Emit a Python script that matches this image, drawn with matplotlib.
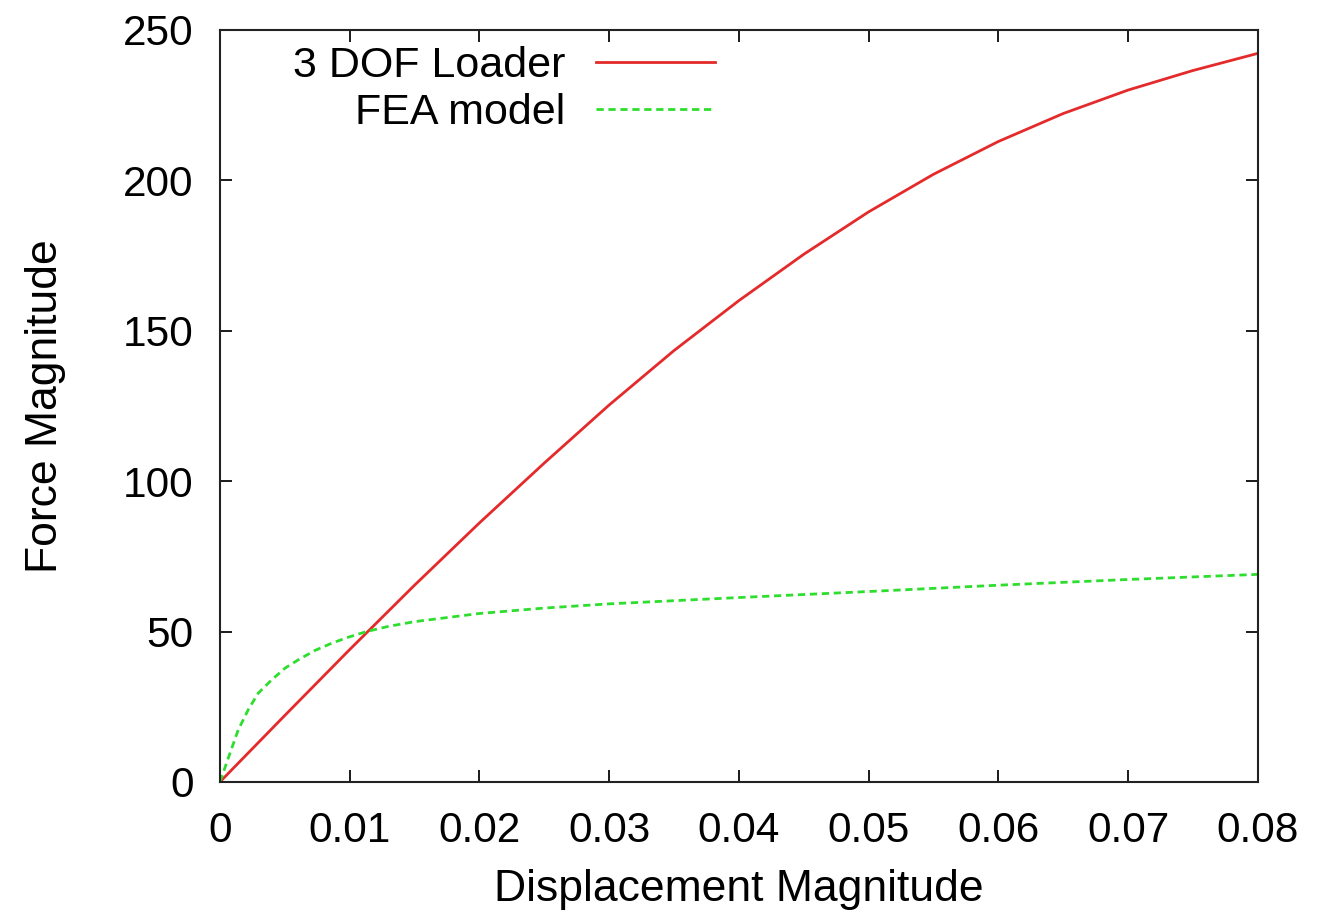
import matplotlib
matplotlib.use("Agg")
import matplotlib.pyplot as plt

plt.rcParams['font.family'] = ['Liberation Sans', 'DejaVu Sans']

# Data
loader_x = [0, 0.005, 0.01, 0.015, 0.02, 0.025, 0.03, 0.035, 0.04, 0.045,
            0.05, 0.055, 0.06, 0.065, 0.07, 0.075, 0.08]
loader_y = [0, 22.1, 44.0, 65.4, 86.1, 106.0, 125.3, 143.4, 160.0, 175.4,
            189.5, 202.0, 212.9, 222.2, 230.0, 236.5, 242.2]

fea_x = [0, 0.00077, 0.00141, 0.00218, 0.00295, 0.00398, 0.00501, 0.00604,
         0.00732, 0.00861, 0.00989, 0.01131, 0.01297, 0.01503, 0.02, 0.025,
         0.03, 0.04, 0.05, 0.06, 0.07, 0.08]
fea_y = [0, 9.5, 17.3, 24.0, 29.5, 33.9, 37.8, 40.6,
         43.7, 46.1, 48.1, 50.0, 51.7, 53.3, 56.0, 57.8,
         59.2, 61.3, 63.3, 65.4, 67.3, 69.0]

x_ticks = [0, 0.01, 0.02, 0.03, 0.04, 0.05, 0.06, 0.07, 0.08]
x_tick_labels = ['0', '0.01', '0.02', '0.03', '0.04', '0.05', '0.06', '0.07', '0.08']
y_ticks = [0, 50, 100, 150, 200, 250]

fig = plt.figure(figsize=(13.17, 9.21), dpi=100)
ax = fig.add_axes([0.167, 0.151, 0.788, 0.8165])

ax.plot(loader_x, loader_y, color='#e42a2a', lw=2.0, label='3 DOF Loader')
ax.plot(fea_x, fea_y, color='#2ede2e', lw=2.0, linestyle=(0, (2.6, 1.7)),
        label='FEA model')

ax.set_xlim(0, 0.08)
ax.set_ylim(0, 250)
ax.set_xticks(x_ticks)
ax.set_xticklabels(x_tick_labels)
ax.set_yticks(y_ticks)

ax.tick_params(direction='in', length=8.5, width=1.4, top=True, right=True,
               labelsize=30.5, colors='#1a1a1a', labelcolor='black')
ax.tick_params(axis='x', pad=21)
ax.tick_params(axis='y', pad=19)
for s in ax.spines.values():
    s.set_linewidth(1.5)
    s.set_color('#222222')

ax.set_xlabel('Displacement Magnitude', fontsize=32)
ax.set_ylabel('Force Magnitude', fontsize=32)
ax.xaxis.set_label_coords(0.5, -0.116)
ax.yaxis.set_label_coords(-0.148, 0.5)

ax.legend(loc='upper right', bbox_to_anchor=(0.4769, 0.978), frameon=False,
          markerfirst=False, fontsize=31, handlelength=2.75, handletextpad=0.72,
          labelspacing=0.16, borderaxespad=0, borderpad=0)

fig.savefig('out.png', dpi=100)
